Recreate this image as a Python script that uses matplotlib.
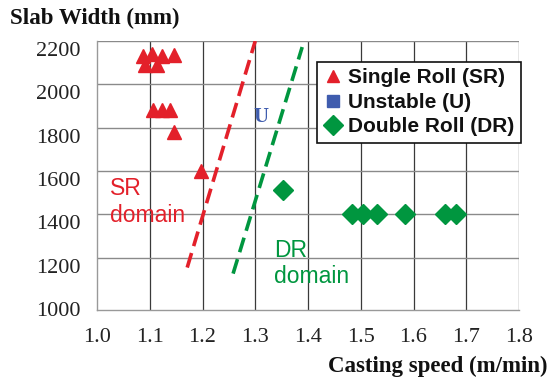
import matplotlib
matplotlib.use("Agg")
import matplotlib.pyplot as plt
import matplotlib.transforms as mtransforms
from matplotlib.lines import Line2D

# single roll (SR) observations: casting speed (m/min), slab width (mm)
sr_speed = [1.087, 1.104, 1.123, 1.146, 1.091, 1.114, 1.106, 1.123, 1.139, 1.146, 1.197]
sr_width = [2130, 2140, 2130, 2135, 2090, 2090, 1880, 1880, 1880, 1780, 1600]

# double roll (DR) observations
dr_speed = [1.353, 1.484, 1.505, 1.531, 1.583, 1.660, 1.681]
dr_width = [1510, 1400, 1400, 1400, 1400, 1400, 1400]

# domain boundaries (end points of the dashed lines)
sr_bound_speed = [1.171, 1.300]
sr_bound_width = [1154, 2200]
dr_bound_speed = [1.258, 1.389]
dr_bound_width = [1126, 2172]

x_ticks = [1.0, 1.1, 1.2, 1.3, 1.4, 1.5, 1.6, 1.7, 1.8]
y_ticks = [1000, 1200, 1400, 1600, 1800, 2000, 2200]

RED = "#e3202a"
GREEN = "#00963f"
BLUE = "#3f5cae"
SERIF = "Liberation Serif"
SANS = "Liberation Sans"

W, H = 552, 379
fig = plt.figure(figsize=(W / 100, H / 100), dpi=100)
ax = fig.add_axes([97 / W, 1 - 310 / H, (519 - 97) / W, (310 - 41) / H])

ax.set_xlim(1.0, 1.8)
ax.set_ylim(958, 2200)

# grid: dark verticals, lighter horizontals
for x in x_ticks[1:]:
    ax.axvline(x, color="#3a3a3a", lw=0.9, zorder=1)
for y in y_ticks[1:]:
    ax.axhline(y, color="#8a8a8a", lw=1.0, zorder=1)

for side in ["top", "right"]:
    ax.spines[side].set_visible(False)
for side in ["left", "bottom"]:
    ax.spines[side].set_color("#999999")
    ax.spines[side].set_linewidth(1.0)

ax.set_xticks(x_ticks)
ax.set_xticklabels(["%.1f" % v for v in x_ticks])
ax.set_yticks(y_ticks)
ax.set_yticklabels([str(v) for v in y_ticks])
ax.tick_params(axis="x", length=0, pad=13)
ax.tick_params(axis="y", length=0, pad=12)
for lab in ax.get_xticklabels() + ax.get_yticklabels():
    lab.set_fontfamily(SERIF)
    lab.set_fontsize(16)
    lab.set_color("#222222")
# y labels sit a little below their grid lines
shift = mtransforms.ScaledTranslation(0, -8 / 100, fig.dpi_scale_trans)
for lab in ax.get_yticklabels():
    lab.set_transform(lab.get_transform() + shift)

# boundaries
ax.plot(sr_bound_speed, sr_bound_width, color=RED, lw=2.6, dashes=(4.2, 2.0), zorder=2)
ax.plot(dr_bound_speed, dr_bound_width, color=GREEN, lw=2.6, dashes=(4.2, 2.0), zorder=2)

# data points
ax.plot(sr_speed, sr_width, ls="none", marker="^", ms=9.5, color=RED, mec=RED, zorder=3)
ax.plot(dr_speed, dr_width, ls="none", marker="D", ms=10.5, color=GREEN, mec=GREEN, zorder=3)

# domain labels
ax.text(1.311, 1850, "U", color=BLUE, fontfamily=SERIF, fontweight="bold",
        fontsize=15, ha="center", va="center")
ax.text(1.025, 1570, "SR\ndomain", color=RED, fontfamily=SANS, fontsize=16.5,
        ha="left", va="top", linespacing=1.2)
ax.text(1.335, 1288, "DR\ndomain", color=GREEN, fontfamily=SANS, fontsize=16.5,
        ha="left", va="top", linespacing=1.2)

# legend
handles = [
    Line2D([], [], ls="none", marker="^", ms=9, color=RED),
    Line2D([], [], ls="none", marker="s", ms=8.5, color=BLUE),
    Line2D([], [], ls="none", marker="D", ms=10.5, color=GREEN),
]
labels = ["Single Roll (SR)", "Unstable (U)", "Double Roll (DR)"]
leg = ax.legend(handles, labels, loc="upper left",
                bbox_to_anchor=(317 / W, 1 - 62 / H), bbox_transform=fig.transFigure,
                borderaxespad=0, frameon=True, fancybox=False,
                prop={"family": SANS, "weight": "bold", "size": 15},
                borderpad=0.3, labelspacing=0.27, handlelength=0.9,
                handletextpad=0.3, numpoints=1)
leg.get_frame().set_edgecolor("#111111")
leg.get_frame().set_linewidth(1.2)
leg.get_frame().set_alpha(1)
for t in leg.get_texts():
    t.set_color("#111111")

# axis titles
fig.text(10 / W, 1 - 18 / H, "Slab Width (mm)", fontfamily=SERIF, fontweight="bold",
         fontsize=16.5, ha="left", va="center", color="#111111")
fig.text(548 / W, 1 - 366 / H, "Casting speed (m/min)", fontfamily=SERIF,
         fontweight="bold", fontsize=16.5, ha="right", va="center", color="#111111")

fig.savefig("out.png", dpi=100)
